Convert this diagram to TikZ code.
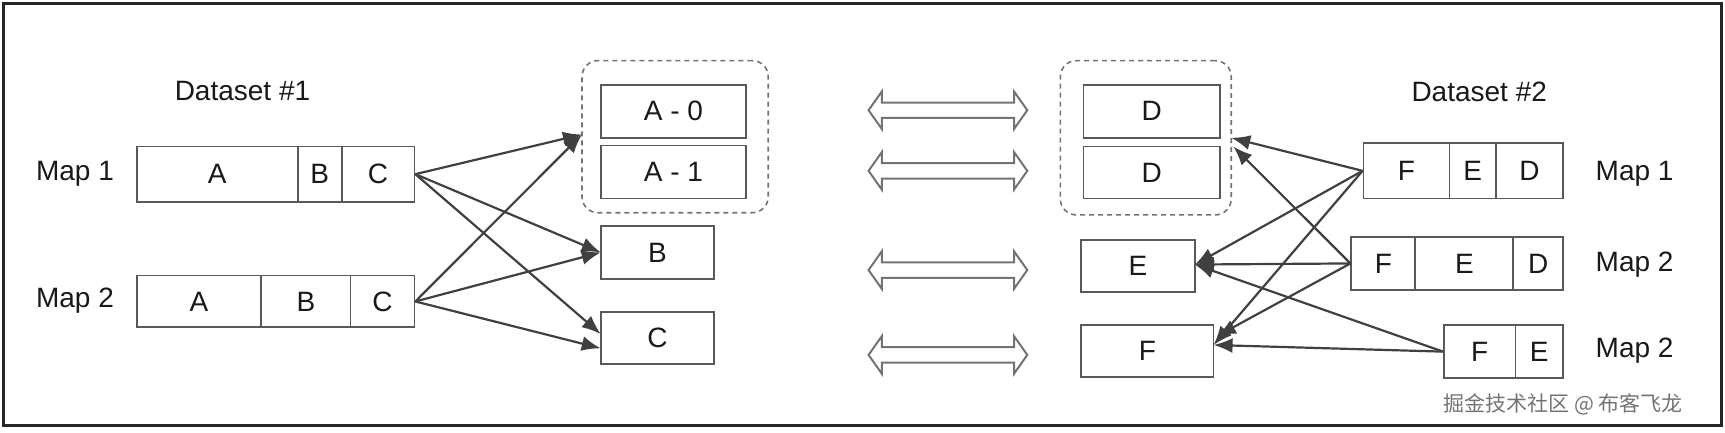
\documentclass[tikz,border=0pt]{standalone}
\usepackage{fontspec}
\setmainfont{Liberation Sans}
\newfontfamily\cjk{Noto Sans CJK SC}
\usetikzlibrary{fit,arrows.meta}
\begin{document}
\begin{tikzpicture}[x=1.1022pt,y=-1.1022pt,
  box/.style={draw=black!65, line width=1.8pt, inner sep=0pt},
  bt/.style={font=\fontsize{28}{30}\selectfont, text=black!90},
  grp/.style={draw=black!55, dashed, dash pattern=on 5pt off 4pt, line width=1.6pt, rounded corners=16pt, inner sep=0pt},
  lab/.style={font=\fontsize{28}{30}\selectfont, text=black!90},
  ar/.style={draw=black!75, line width=2.2pt, -{Latex[length=19pt,width=15pt]}},
  dar/.style={draw=black!55, line width=2pt, line join=miter, fill=white}]
\useasboundingbox (0,0) rectangle (1565,392);
\draw[line width=2.6pt, black!85] (3,3) rectangle (1562,386);
% left
\node[lab] (t1) at (220,83) {Dataset \#1};
\node[lab] (m11) at (68,158) {Map 1};
\node[lab] (m12) at (68,273) {Map 2};
\node[box, fit={(124,133)(270,183)}] (a1) {}; \node[bt] at (a1) {A};
\node[box, fit={(270,133)(310,183)}] (b1) {}; \node[bt] at (b1) {B};
\node[box, fit={(310,133)(376,183)}] (c1) {}; \node[bt] at (c1) {C};
\node[box, fit={(124,250)(237,297)}] (a2) {}; \node[bt] at (a2) {A};
\node[box, fit={(237,250)(318,297)}] (b2) {}; \node[bt] at (b2) {B};
\node[box, fit={(318,250)(376,297)}] (c2) {}; \node[bt] at (c2) {C};
\node[grp, fit={(528,55)(697,193)}] (g1) {};
\node[box, fit={(545,77)(677,125)}] (a0) {}; \node[bt] at (a0) {A - 0};
\node[box, fit={(545,132)(677,180)}] (aa1) {}; \node[bt] at (aa1) {A - 1};
\node[box, fit={(545,205)(648,253)}] (bb) {}; \node[bt] at (bb) {B};
\node[box, fit={(545,283)(648,330)}] (cc) {}; \node[bt] at (cc) {C};
\coordinate (gin) at (528,122);
\coordinate (bin) at (545,229);
\coordinate (cin1) at (545,303);
\coordinate (cin2) at (545,316);
\draw[ar] (c1.east) -- (gin);
\draw[ar] (c1.east) -- (bin);
\draw[ar] (c1.east) -- (cin1);
\draw[ar] (c2.east) -- (gin);
\draw[ar] (c2.east) -- (bin);
\draw[ar] (c2.east) -- (cin2);
% middle
\foreach \n/\yy in {d1/100,d2/155,d3/245,d4/322}{
  \coordinate (\n) at (860,\yy);
  \draw[dar] ([shift={(-72,0)}]\n) -- ++(12,-17) -- ++(0,10) -- ++(120,0) -- ++(0,-10)
     -- ++(12,17) -- ++(-12,17) -- ++(0,-10) -- ++(-120,0) -- ++(0,10) -- cycle;
}
% right
\node[grp, fit={(962,55)(1117,195)}] (g2) {};
\node[box, fit={(983,77)(1107,125)}] (dd1) {}; \node[bt] at (dd1) {D};
\node[box, fit={(983,133)(1107,180)}] (dd2) {}; \node[bt] at (dd2) {D};
\node[box, fit={(981,218)(1084,265)}] (ee) {}; \node[bt] at (ee) {E};
\node[box, fit={(981,295)(1101,342)}] (ff) {}; \node[bt] at (ff) {F};
\node[lab] (t2) at (1342,83) {Dataset \#2};
\node[lab] (r11) at (1483,158) {Map 1};
\node[lab] (r12) at (1483,240) {Map 2};
\node[lab] (r13) at (1483,318) {Map 2};
\node[box, fit={(1237,130)(1315,180)}] (f1) {}; \node[bt] at (f1) {F};
\node[box, fit={(1315,130)(1357,180)}] (e1) {}; \node[bt] at (e1) {E};
\node[box, fit={(1357,130)(1418,180)}] (dr1) {}; \node[bt] at (dr1) {D};
\node[box, fit={(1226,215)(1284,263)}] (f2) {}; \node[bt] at (f2) {F};
\node[box, fit={(1284,215)(1373,263)}] (e2) {}; \node[bt] at (e2) {E};
\node[box, fit={(1373,215)(1418,263)}] (dr2) {}; \node[bt] at (dr2) {D};
\node[box, fit={(1310,295)(1375,343)}] (f3) {}; \node[bt] at (f3) {F};
\node[box, fit={(1375,295)(1418,343)}] (e3) {}; \node[bt] at (e3) {E};
\coordinate (gd) at (1117,125);
\coordinate (gd2) at (1119,133);
\coordinate (ein) at (1084,240);
\coordinate (fin) at (1101,313);
\coordinate (fin2) at (1104,305);
\draw[ar] (f1.west) -- (gd);
\draw[ar] (f1.west) -- (ein);
\draw[ar] (f1.west) -- (fin);
\draw[ar] (f2.west) -- (gd2);
\draw[ar] (f2.west) -- (ein);
\draw[ar] (f2.west) -- (fin2);
\draw[ar] (f3.west) -- (ein);
\draw[ar] (f3.west) -- (fin);
\node[font=\cjk\fontsize{21}{24}\selectfont, text=black!55] (wm) at (1418,367) {掘金技术社区 @ 布客飞龙};
\end{tikzpicture}
\end{document}
